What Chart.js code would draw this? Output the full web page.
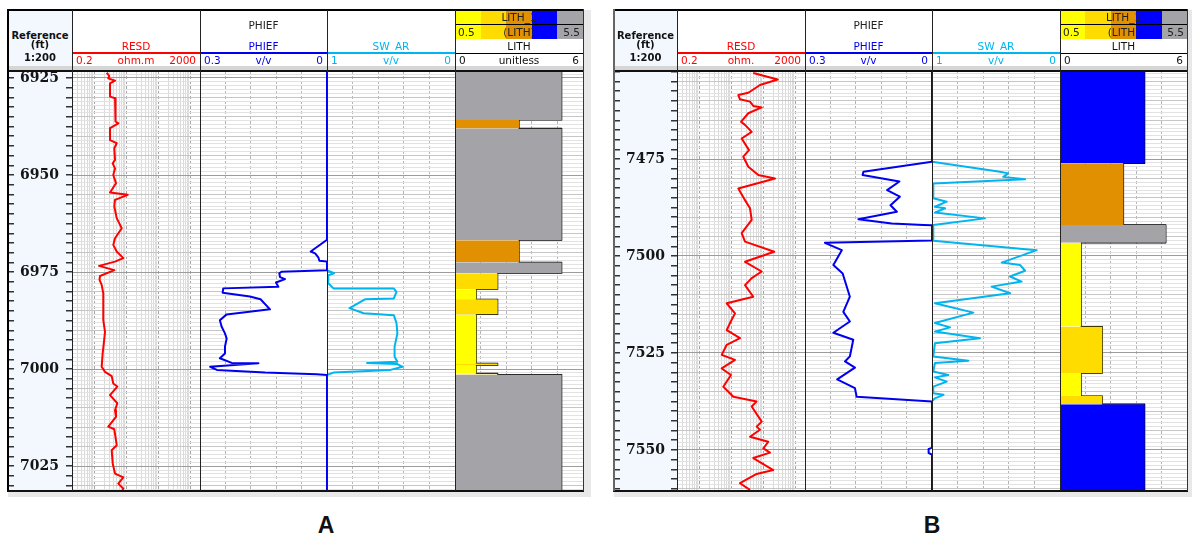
<!DOCTYPE html>
<html><head><meta charset="utf-8">
<script src="https://cdn.jsdelivr.net/npm/chart.js@4.4.1/dist/chart.umd.min.js"></script>
<style>
html,body{margin:0;padding:0;background:#fff;}
body{width:1192px;height:540px;position:relative;overflow:hidden;font-family:'DejaVu Sans',Verdana,sans-serif;}
.a{position:absolute;box-sizing:border-box;}
.t{position:absolute;white-space:nowrap;font-size:10.5px;}
canvas{position:absolute;}
</style></head><body>
<script>
// ================= DATA =================
const A_DEPTH_RANGE = [6923.2, 7031.4];
const B_DEPTH_RANGE = [7452.3, 7560.6];

const A_RESD_DEPTH = [6923.6,6924.5,6925.1,6925.7,6926.4,6929.8,6930.2,6933.2,6936.2,6936.7,6937.9,6941.0,6941.8,6943.1,6946.1,6947.0,6948.3,6950.0,6952.1,6954.5,6955.1,6956.4,6958.1,6961.1,6963.7,6966.3,6968.0,6969.7,6971.4,6972.3,6973.4,6974.5,6976.0,6977.0,6978.3,6980.5,6987.4,6990.4,6992.9,6995.9,6999.4,7000.7,7001.8,7003.7,7004.5,7006.7,7008.8,7010.6,7012.3,7014.8,7015.5,7019.6,7020.9,7024.3,7026.9,7027.9,7029.5,7030.8,7031.7];
const A_RESD = [2.43,2.93,2.72,4.42,3.08,3.08,4.42,4.42,4.74,5.60,3.08,3.08,4.99,4.20,4.42,3.74,4.42,3.90,4.74,3.08,11.0,4.42,4.20,4.99,7.15,4.42,3.90,4.99,8.02,4.42,1.40,4.20,1.50,1.45,1.69,1.90,1.90,2.15,2.00,1.82,1.69,2.15,3.48,3.90,5.21,3.08,5.21,4.42,4.74,2.72,4.20,4.99,3.48,3.74,4.42,8.02,5.60,8.02,7.15];

const A_PHIEF_DEPTH = [6923.2,6966.7,6969.7,6970.2,6971.2,6972.1,6972.3,6974.5,6974.9,6975.3,6976.3,6976.8,6977.7,6978.8,6979.2,6980.3,6981.3,6982.0,6984.6,6985.9,6987.4,6989.1,6990.8,6992.1,6994.2,6996.0,6997.2,6998.4,6998.5,6999.4,7000.2,7000.9,7001.3,7001.5,7031.4];
const A_PHIEF = [0,0,0.0385,0.028,0.0205,0.018,0,0,0.107,0.1126,0.111,0.0992,0.1205,0.115,0.245,0.2465,0.182,0.157,0.1346,0.237,0.253,0.2488,0.241,0.237,0.241,0.241,0.253,0.225,0.162,0.276,0.26,0.1465,0.0244,0,0];

const A_SW_DEPTH = [6923.2,6974.5,6975.3,6975.8,6977.9,6979.2,6979.25,6980.1,6981.8,6982.0,6984.3,6985.6,6986.1,6988.2,6990.8,6994.2,6996.8,6998.1,6998.4,6998.7,6999.4,7000.2,7000.9,7001.5,7031.4];
const A_SW = [1,1,0.945,0.99,0.99,0.95,0.478,0.457,0.478,0.70,0.824,0.714,0.478,0.457,0.45,0.472,0.472,0.45,0.687,0.45,0.41,0.504,0.95,1,1];

const A_LITH_TOP  = [6923.2,6935.8,6938.0,6966.8,6972.5,6975.3,6979.4,6982.0,6985.9,6998.5,6999.0,7001.1,7001.4];
const A_LITH_BASE = [6935.8,6938.0,6966.8,6972.5,6975.3,6979.4,6982.0,6985.9,6998.5,6999.0,7001.1,7001.4,7031.4];
const A_LITH_CODE = [5,3,5,3,5,2,1,2,1,2,1,2,5];

const B_RESD_DEPTH = [7452.8,7454.5,7455.9,7457.9,7458.5,7459.6,7460.2,7461.3,7461.7,7463.2,7465.4,7466.2,7468.0,7469.7,7472.7,7474.4,7477.0,7479.1,7480.0,7482.6,7485.6,7487.7,7490.7,7494.1,7496.3,7498.9,7501.5,7504.0,7505.7,7507.5,7510.5,7512.2,7514.8,7517.3,7519.1,7521.2,7522.9,7525.5,7526.8,7529.0,7530.7,7533.7,7536.3,7537.5,7538.8,7542.7,7544.0,7544.8,7546.6,7547.9,7549.6,7550.7,7552.1,7555.2,7556.2,7558.6,7560.3];
const B_RESD = [48.4,281,78.5,33.8,16.5,18.6,38.2,48.4,88.7,33.8,20.0,26.7,43.2,21.0,35.6,23.6,33.8,69.4,231,16.5,26.7,38.2,43.2,21.0,26.7,219,26.7,88.7,43.2,26.7,48.4,7.15,13.0,9.06,7.15,18.6,7.15,4.99,13.0,4.99,9.74,5.6,11.5,61.8,43.2,88.7,61.8,78.5,38.2,143,99.5,161,48.4,204,61.8,18.6,38.2];

const B_PHIEF_DEPTH = [7452.3,7475.7,7478.3,7479.1,7480.8,7483.0,7484.7,7486.9,7488.6,7490.5,7491.6,7492.0,7492.1,7496.0,7496.6,7498.5,7502.3,7504.5,7510.5,7514.4,7516.9,7519.8,7521.6,7525.9,7527.2,7528.8,7531.8,7534.1,7536.3,7537.5,7549.4,7549.8,7550.8,7551.2,7560.6];
const B_PHIEF = [0,0,0.162,0.164,0.077,0.106,0.076,0.098,0.083,0.174,0.095,0.02,0,0,0.253,0.213,0.233,0.211,0.194,0.2095,0.194,0.233,0.186,0.194,0.2055,0.182,0.224,0.182,0.178,0,0,0.008,0.008,0,0];

const B_SW_DEPTH = [7452.3,7475.7,7478.3,7478.7,7479.6,7480.2,7481.3,7485.1,7486.0,7487.3,7487.7,7488.8,7490.3,7492.0,7496.1,7498.5,7501.7,7502.3,7503.8,7505.3,7506.6,7507.9,7509.6,7512.2,7514.6,7517.3,7518.4,7519.5,7521.2,7522.5,7525.9,7527.0,7527.6,7529.8,7530.7,7531.3,7532.4,7533.7,7535.4,7535.8,7536.7,7537.5,7560.6];
const B_SW = [1,1,0.469,0.404,0.443,0.273,0.99,0.99,0.885,0.977,0.898,0.977,0.586,0.99,0.99,0.182,0.455,0.3125,0.273,0.39,0.30,0.534,0.39,0.977,0.677,0.977,0.859,0.977,0.625,0.977,0.99,0.716,0.977,0.99,0.873,0.977,0.885,0.99,0.99,0.91,0.977,1,1];

const B_LITH_TOP  = [7452.3,7476.1,7492.0,7496.6,7518.2,7530.2,7536.1,7538.2];
const B_LITH_BASE = [7476.1,7492.0,7496.6,7518.2,7530.2,7536.1,7538.2,7560.6];
const B_LITH_CODE = [4,3,5,1,2,1,2,4];

const LITH_LEGEND_CODES = [1,2,3,4,5];
const LITH_COLORS = {1:'#ffff00', 2:'#ffdc00', 3:'#e09000', 4:'#0000ff', 5:'#a3a3a8'};

// ================= LAYOUT =================
const HT = 10, HB = 66, DT = 71, DB = 491;
const RED = '#ff0000', BLUE = '#0000ee', CYAN = '#00b4f0';

function box(l, t, w, h, bg, z) {
  const d = document.createElement('div'); d.className = 'a';
  d.style.cssText += `left:${l}px;top:${t}px;width:${w}px;height:${h}px;background:${bg};z-index:${z||0};`;
  document.body.appendChild(d); return d;
}
function txt(s, l, t, w, h, css, z) {
  const d = document.createElement('div'); d.className = 't'; d.textContent = s;
  d.style.cssText += `left:${l}px;top:${t}px;width:${w}px;height:${h}px;line-height:${h}px;${css||''}z-index:${z||6};`;
  document.body.appendChild(d); return d;
}
function mkCanvas(l, t, w, h, z) {
  const c = document.createElement('canvas');
  c.width = w; c.height = h;
  c.style.cssText = `left:${l}px;top:${t}px;width:${w}px;height:${h}px;z-index:${z||1};`;
  document.body.appendChild(c); return c;
}
function pts(d, v) { return d.map((y, i) => ({x: v[i], y})); }

function yDepth(range) {
  return {type:'linear', reverse:true, min:range[0], max:range[1],
    ticks:{display:false, stepSize:1, includeBounds:false},
    grid:{drawTicks:false, lineWidth:1, color: c => {
      const v = Math.round(c.tick.value);
      return v % 25 === 0 ? '#9c9c9c' : (v % 5 === 0 ? '#c6c6c6' : '#e2e2e2'); }},
    border:{display:false}};
}
function mant(v) { const e = Math.floor(Math.log10(v) + 1e-9); return v / Math.pow(10, e); }

function trackChart(xl, xr, range, xScale, datasets) {
  const c = mkCanvas(xl - 2, DT, xr - xl + 4, DB - DT, 1);
  return new Chart(c, {type:'line', data:{datasets},
    options:{indexAxis:'y', responsive:false, animation:false, events:[],
      layout:{autoPadding:false, padding:{left:2, right:2, top:0, bottom:0}},
      plugins:{legend:{display:false}, tooltip:{enabled:false}},
      elements:{point:{radius:0}, line:{tension:0, borderJoinStyle:'round'}},
      scales:{x:xScale, y:yDepth(range)}}});
}

function noPad(s) { s.paddingTop = 0; s.paddingBottom = 0; s.paddingLeft = 0; s.paddingRight = 0; }

function depthChart(x0, x1, range) {
  const w = x1 - x0;
  const c = mkCanvas(x0, DT, w, DB - DT, 1);
  new Chart(c, {type:'line', data:{datasets:[]},
    options:{responsive:false, animation:false, events:[],
      plugins:{legend:{display:false}, tooltip:{enabled:false}},
      layout:{autoPadding:false, padding:0},
      scales:{
        x:{display:false},
        yd:{type:'linear', position:'right', weight:0, min:range[0], max:range[1], reverse:true,
          afterFit: s => { s.width = w - 7; noPad(s); },
          ticks:{stepSize:2.5, autoSkip:false, includeBounds:false, padding:6, crossAlign:'center',
            color:'#151515', font:{family:'DejaVu Serif', weight:'bold', size:14},
            callback: v => (Math.abs(v % 25) < 1e-6 ? String(v) : '')},
          grid:{drawOnChartArea:false, drawTicks:true, tickLength:5, color:'#333', lineWidth:1.5},
          border:{display:false}},
        yr:{type:'linear', position:'right', weight:1, min:range[0], max:range[1], reverse:true,
          afterFit: s => { s.width = 6; noPad(s); },
          ticks:{display:false, stepSize:2.5, includeBounds:false},
          grid:{drawOnChartArea:false, drawTicks:true, tickLength:6, color:'#333', lineWidth:1.5},
          border:{display:false}}
      }}});
}

function curveHeader(xl, xr, title, name, color, lo, unit, hi) {
  const w = xr - xl;
  if (title) txt(title, xl, 19, w, 13, 'text-align:center;color:#222;');
  txt(name, xl, 40, w, 12, `text-align:center;color:${color};`);
  box(xl, 52, w, 2, color, 5);
  txt(lo, xl + 4, 54, 40, 13, `text-align:left;color:${color};`);
  txt(unit, xl, 54, w, 13, `text-align:center;color:${color};`);
  txt(hi, xr - 44, 54, 40, 13, `text-align:right;color:${color};`);
}
function lithHeader(xl, xr, unit) {
  const w = xr - xl, bw = w / 5;
  LITH_LEGEND_CODES.forEach((code, i) => box(xl + i * bw, HT, bw + 0.5, 29, LITH_COLORS[code], 2));
  box(xl, 24, w, 1, '#000', 5);
  txt('LITH_1', xl, 11, w, 13, 'text-align:center;color:#222;');
  txt('0.5', xl + 3, 25, 30, 14, 'text-align:left;color:#222;');
  txt('(LITH)', xl, 25, w, 14, 'text-align:center;color:#222;');
  txt('5.5', xr - 33, 25, 30, 14, 'text-align:right;color:#222;');
  txt('LITH', xl, 40, w, 12, 'text-align:center;color:#111;');
  box(xl, 53, w, 1, '#000', 5);
  txt('0', xl + 4, 54, 30, 13, 'text-align:left;color:#111;');
  if (unit) txt(unit, xl, 54, w, 13, 'text-align:center;color:#111;');
  txt('6', xr - 34, 54, 30, 13, 'text-align:right;color:#111;');
}

function buildPanel(P) {
  const [x0, x1, x2, x3, x4, x5] = P.xs;
  const W = x5 - x0;
  // backgrounds
  box(x0, HT, W, DB - HT, '#fff', 0);
  box(x0, HT, x1 - x0, DB - HT, '#f3f8fe', 0);
  box(x5 + 1, HT, P.stripW, DB - HT + 6, '#e8e8e8', 0);
  box(x0, DB + 1, W + P.stripW + 1, 5, '#e8e8e8', 0);
  // depth track
  depthChart(x0, x1, P.range);
  // RESD
  trackChart(x1, x2, P.range,
    {type:'logarithmic', min:0.2, max:2000, ticks:{display:false},
     grid:{drawTicks:false, lineWidth:1, color: c => {
       const m = mant(c.tick.value);
       if (Math.abs(m - 1) < 1e-6) return '#a4a4a4';
       if (Math.abs(m - 1.5) < 1e-3) return 'rgba(0,0,0,0)';
       return '#dadada'; }},
     border:{display:false, dash: c => (Math.abs(mant(c.tick.value) - 1) < 1e-6 ? [3, 2] : [])}},
    [{data: pts(P.resd[0], P.resd[1]), borderColor: RED, borderWidth: 2, fill: false}]);
  // SW_AR
  trackChart(x3, x4, P.range,
    {type:'linear', min:0, max:1, reverse:true, ticks:{display:false, count:6},
     grid:{drawTicks:false, color:'#b4b4b4'}, border:{display:false, dash:[3, 2]}},
    [{data: pts(P.sw[0], P.sw[1]), borderColor: CYAN, borderWidth: 2, fill: false}]);
  // PHIEF (white fill to zero line)
  trackChart(x2, x3, P.range,
    {type:'linear', min:0, max:0.3, reverse:true, ticks:{display:false, count:6},
     grid:{drawTicks:false, color:'#b4b4b4'}, border:{display:false, dash:[3, 2]}},
    [{data: pts(P.phi[0], P.phi[1]), borderColor: BLUE, borderWidth: 2, fill: {value: 0}, backgroundColor: '#ffffff'}]);
  // LITH
  const [tops, bases, codes] = P.lith;
  const lithSets = tops.map((t, i) => ({
    data: [{x: codes[i], y: t}, {x: codes[i], y: bases[i]}],
    borderWidth: 0, borderColor: 'rgba(0,0,0,0)', fill: {value: 0}, backgroundColor: LITH_COLORS[codes[i]]}));
  const outline = [];
  tops.forEach((t, i) => { outline.push({x: codes[i], y: t}); outline.push({x: codes[i], y: bases[i]}); });
  lithSets.push({data: outline, borderColor: '#000', borderWidth: 1.2, fill: false});
  trackChart(x4, x5, P.range,
    {type:'linear', min:0, max:6, ticks:{display:false, count:6},
     grid:{drawTicks:false, color:'#b4b4b4'}, border:{display:false, dash:[3, 2]}},
    lithSets);

  // header backgrounds
  box(x0, HT, W, HB - HT, '#fff', 2);
  box(x0, HT, x1 - x0, HB - HT, '#f3f8fe', 2);
  box(x0, HB, W, 4, '#d6d6d6', 4);
  // header texts
  const hd = 'text-align:center;color:#111;font-weight:bold;font-size:10px;';
  txt('Reference', x0, 30, x1 - x0, 12, hd);
  txt('(ft)', x0, 39, x1 - x0, 12, hd);
  txt('1:200', x0, 52, x1 - x0, 12, hd);
  curveHeader(x1, x2, '', 'RESD', RED, '0.2', P.resdUnit, '2000');
  curveHeader(x2, x3, 'PHIEF', 'PHIEF', BLUE, '0.3', 'v/v', '0');
  curveHeader(x3, x4, '', 'SW_AR', CYAN, '1', 'v/v', '0');
  lithHeader(x4, x5, P.lithUnit);
  // frame lines
  box(x0 - 1, HT - 1, W + 2, 2, '#000', 7);
  box(x0 - 1, 70, W + 2, 2, '#111', 7);
  box(x0 - 1, DB - 1, W + 2, 2, '#111', 7);
  box(x0 - 1, HT - 1, 2, DB - HT + 1, P.leftColor, 7);
  box(x5, HT - 1, 1, DB - HT + 1, '#333', 7);
  [x1, x2, x3, x4].forEach(x => box(x, HT, 1, DB - HT, '#222', 7));
  // panel label
  txt(P.label, P.labelX - 20, 512, 40, 26, "text-align:center;color:#111;font-weight:bold;font-size:23px;font-family:'Liberation Sans',Arial,sans-serif;", 8);
}

const PANELS = [
  {label:'A', labelX:326, xs:[8,72,200,327,455,583], stripW:7, leftColor:'#000', range:A_DEPTH_RANGE,
   resd:[A_RESD_DEPTH, A_RESD], phi:[A_PHIEF_DEPTH, A_PHIEF], sw:[A_SW_DEPTH, A_SW],
   lith:[A_LITH_TOP, A_LITH_BASE, A_LITH_CODE], resdUnit:'ohm.m', lithUnit:'unitless'},
  {label:'B', labelX:932, xs:[614,677,805,932,1060,1187], stripW:4, leftColor:'#666', range:B_DEPTH_RANGE,
   resd:[B_RESD_DEPTH, B_RESD], phi:[B_PHIEF_DEPTH, B_PHIEF], sw:[B_SW_DEPTH, B_SW],
   lith:[B_LITH_TOP, B_LITH_BASE, B_LITH_CODE], resdUnit:'ohm.', lithUnit:''}
];
PANELS.forEach(buildPanel);
</script>
</body></html>
